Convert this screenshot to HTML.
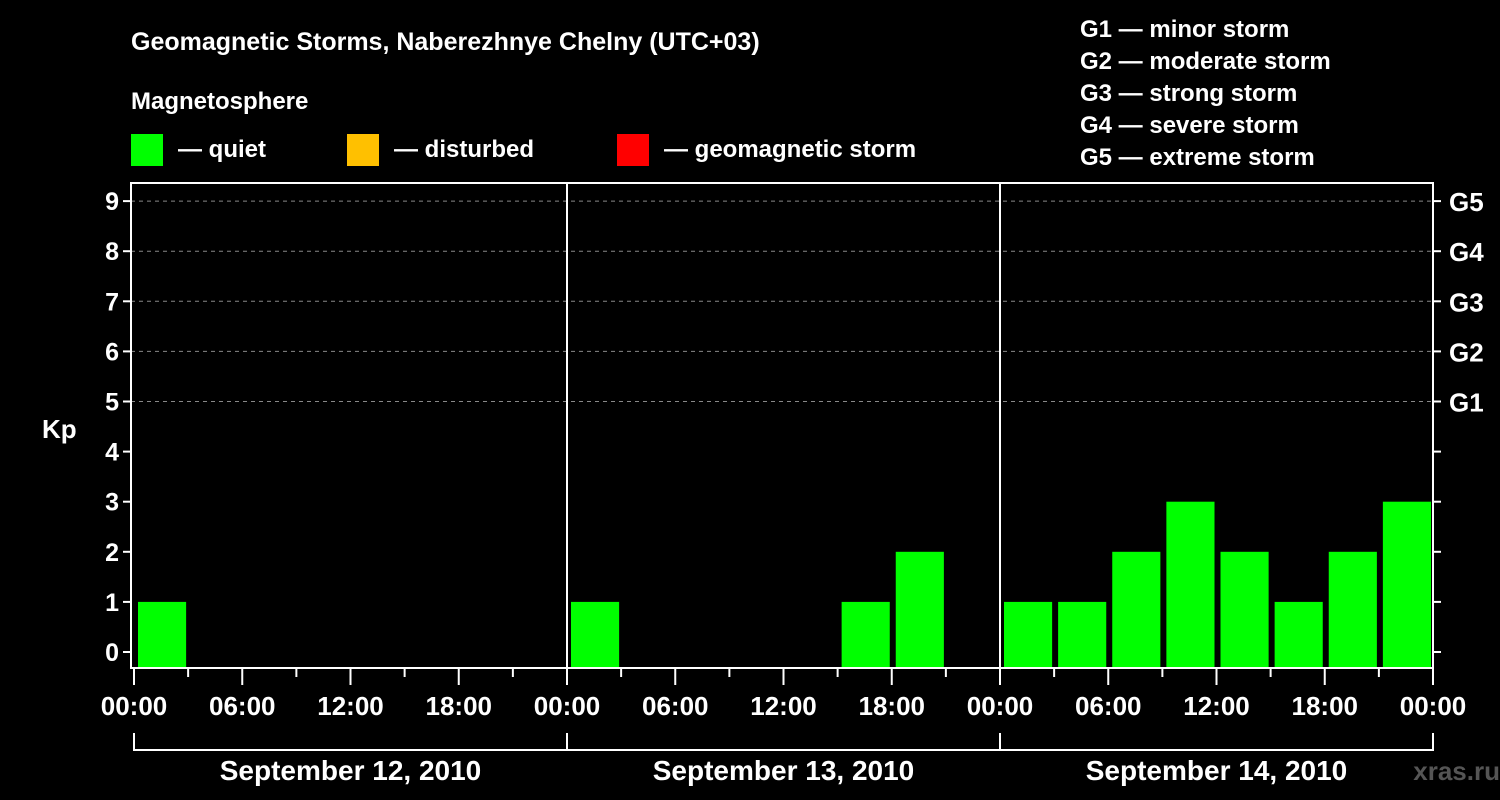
<!DOCTYPE html>
<html><head><meta charset="utf-8"><style>
body{margin:0;background:#000;}
svg{display:block;font-family:"Liberation Sans",Arial,sans-serif;font-weight:bold;fill:#fff;}
</style></head><body>
<svg id="c" width="1500" height="800" viewBox="0 0 1500 800">
<rect width="1500" height="800" fill="#000"/>
<text x="131" y="50" font-size="25">Geomagnetic Storms, Naberezhnye Chelny (UTC+03)</text>
<text x="131" y="109" font-size="24">Magnetosphere</text>
<g><rect x="131" y="134" width="32" height="32" fill="#00ff00"/><text x="178" y="157" font-size="24">— quiet</text></g>
<g><rect x="347" y="134" width="32" height="32" fill="#ffc000"/><text x="394" y="157" font-size="24">— disturbed</text></g>
<g><rect x="617" y="134" width="32" height="32" fill="#ff0000"/><text x="664" y="157" font-size="24">— geomagnetic storm</text></g>
<g font-size="24">
<text x="1080" y="37">G1 — minor storm</text>
<text x="1080" y="69">G2 — moderate storm</text>
<text x="1080" y="101">G3 — strong storm</text>
<text x="1080" y="133">G4 — severe storm</text>
<text x="1080" y="165">G5 — extreme storm</text>
</g>
<text x="42" y="438" font-size="26">Kp</text>
<g id="grid"></g><g id="bars"></g><g id="axes"></g>
<text x="1500" y="780" font-size="26" fill="#555" text-anchor="end" style="fill:#555">xras.ru  </text>
</svg>
<script>
const days = ["September 12, 2010","September 13, 2010","September 14, 2010"];
const kpDay1 = [1,null,null,null,null,null,null,null];
const kpDay2 = [1,null,null,null,null,1,2,null];
const kpDay3 = [1,1,2,3,2,1,2,3];
const yTicks = [0,1,2,3,4,5,6,7,8,9];
const gLabels = ["G1","G2","G3","G4","G5"];
const hourLabels = ["00:00","06:00","12:00","18:00"];

const NS="http://www.w3.org/2000/svg";
const X0=134, DAYW=433, Y0=652, YU=50.1, BOT=668, TOP=183, L=131, R=1433;
const x = h => X0 + h*DAYW/24;
const y = v => Y0 - v*YU;
function mk(tag, attrs, parent){const e=document.createElementNS(NS,tag);for(const k in attrs)e.setAttribute(k,attrs[k]);parent.appendChild(e);return e;}
const grid=document.getElementById('grid'), bars=document.getElementById('bars'), axes=document.getElementById('axes');

yTicks.forEach(v=>{
  if(v>=5){const g=mk('line',{x1:L,x2:R,y1:y(v),y2:y(v),stroke:'#888','stroke-dasharray':'4,4','stroke-width':1},grid);
  
  }
  const t=mk('line',{x1:L-8,x2:L,y1:y(v),y2:y(v),stroke:'#fff','stroke-width':2},axes);
  
  
  const lb=mk('text',{x:L-12,y:y(v)+9,'font-size':25,'text-anchor':'end'},axes);lb.textContent=v;
  
  
  const rt=mk('line',{x1:R,x2:R+8,y1:y(v),y2:y(v),stroke:'#fff','stroke-width':2},axes);
  
  
});
gLabels.forEach((g,i)=>{
  const lb=mk('text',{x:R+16,y:y(5+i)+10,'font-size':26},axes);lb.textContent=g;
  
  
});

[kpDay1,kpDay2,kpDay3].forEach((arr,d)=>{
  arr.forEach((v,i)=>{
    if(v===null)return;
    const h=d*24+i*3;
    const b=mk('rect',{x:x(h)+4,width:DAYW/8-6,y:y(v),height:BOT-y(v),fill:v>=5?'#ff0000':(v>=4?'#ffc000':'#00ff00')},bars);
    
    
  });
});

// frame
const fr=mk('rect',{x:L,y:TOP,width:R-L,height:BOT-TOP,fill:'none',stroke:'#fff','stroke-width':2},axes);


for(let d=1;d<3;d++){
  const s=mk('line',{x1:x(d*24),x2:x(d*24),y1:TOP,y2:BOT,stroke:'#fff','stroke-width':2},axes);
  
  
}
for(let h=0;h<=72;h+=3){
  const major=h%6===0;
  const t=mk('line',{x1:x(h),x2:x(h),y1:BOT,y2:BOT+(major?17:9),stroke:'#fff','stroke-width':2},axes);
  
  
  if(major){
    const lb=mk('text',{x:x(h),y:715,'font-size':26,'text-anchor':'middle'},axes);
    lb.textContent=hourLabels[(h%24)/6];
    
    
  }
}
days.forEach((dn,d)=>{
  const p=mk('path',{d:`M${x(d*24)},733V750H${x(d*24+24)}V733`,fill:'none',stroke:'#fff','stroke-width':2},axes);
  
  
  const lb=mk('text',{x:x(d*24+12),y:780,'font-size':28,'text-anchor':'middle'},axes);lb.textContent=dn;
  
  
});
</script>
</body></html>
